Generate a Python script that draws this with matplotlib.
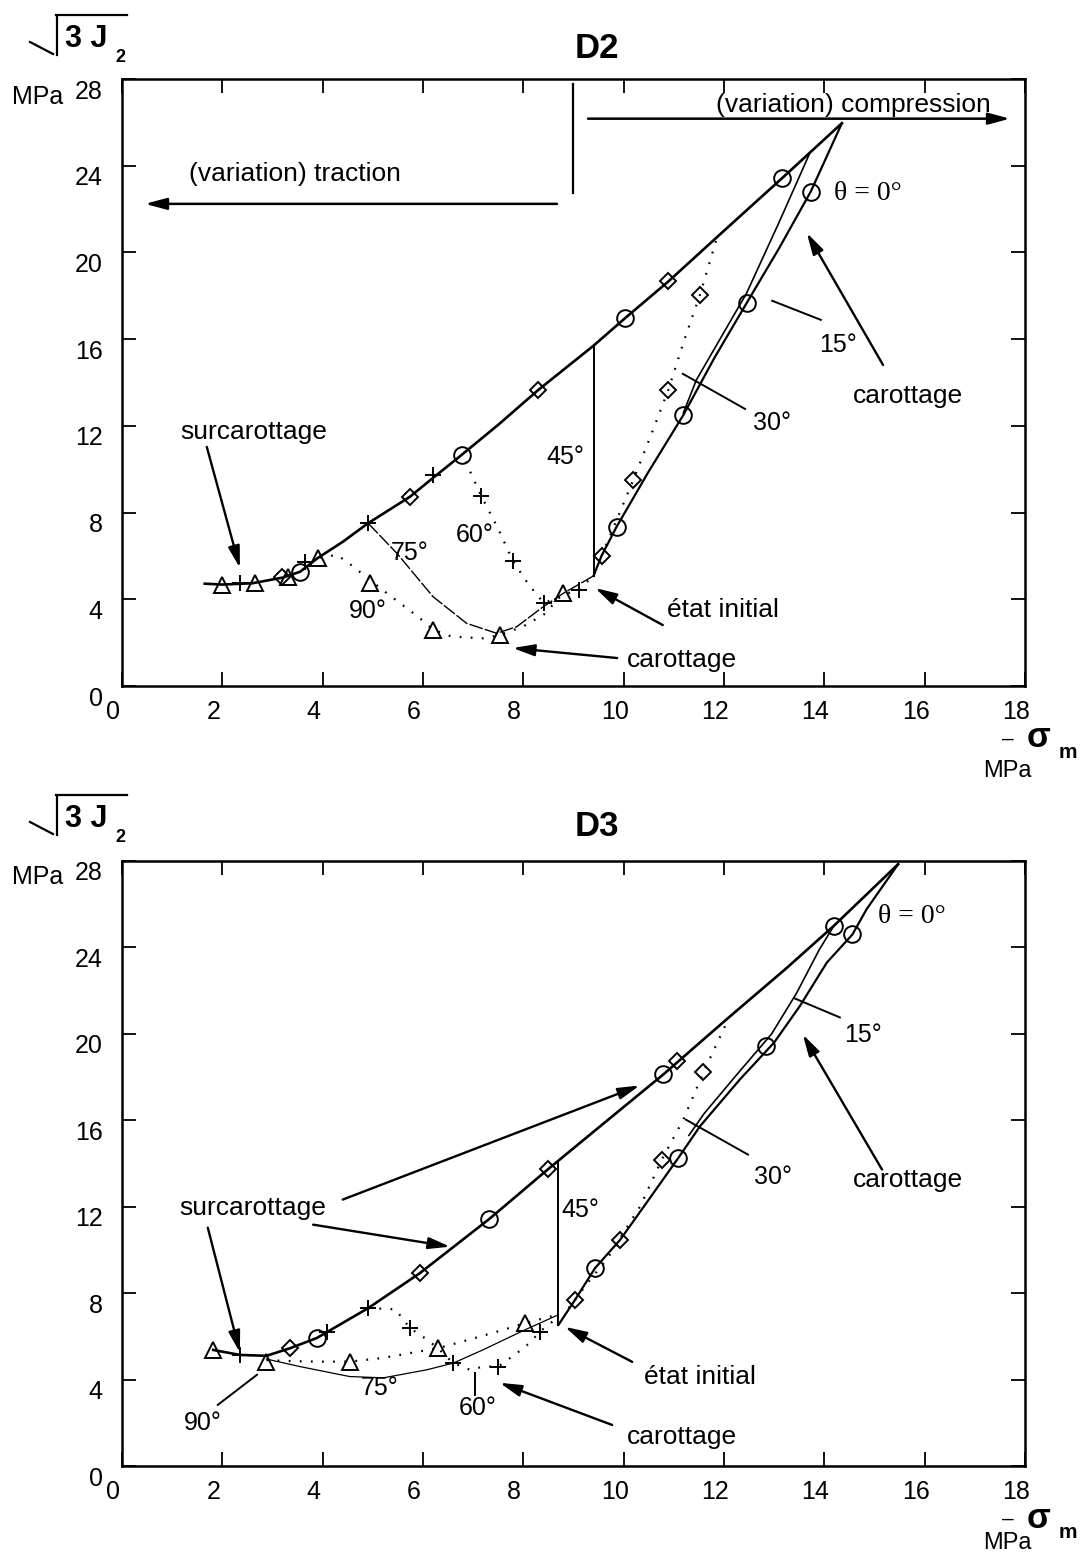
import matplotlib
matplotlib.use("Agg")
import matplotlib.pyplot as plt
from matplotlib.lines import Line2D
from matplotlib.transforms import ScaledTranslation

plt.rcParams['font.family'] = ['Liberation Sans', 'DejaVu Sans']

W, H = 1081, 1558
xticks = list(range(0, 19, 2))
yticks = list(range(0, 29, 4))

# ---- D2 (top panel) ----
d2_up_x = [1.65, 2.0, 2.6, 3.2, 3.55, 3.9, 4.4, 4.9, 5.74, 6.2, 6.77, 7.5, 8.3, 9.4, 10.03, 10.89, 12.0, 13.16, 14.35]
d2_up_y = [4.72, 4.68, 4.74, 5.0, 5.27, 5.9, 6.65, 7.5, 8.73, 9.6, 10.66, 12.05, 13.66, 15.7, 16.97, 18.66, 21.0, 23.43, 25.96]
d2_r0_x = [14.35, 13.73, 13.1, 12.45, 11.8, 11.19, 10.5, 9.86, 9.56, 9.4]
d2_r0_y = [25.96, 22.81, 20.2, 17.66, 15.1, 12.5, 9.9, 7.35, 6.01, 5.08]
d2_r15_x = [13.16, 13.71, 13.1, 12.45, 11.45, 11.19]
d2_r15_y = [23.43, 24.58, 21.4, 18.12, 14.12, 12.6]
d2_d30_x = [9.56, 9.85, 10.19, 10.55, 10.89, 11.2, 11.52, 11.85]
d2_d30_y = [6.01, 7.6, 9.5, 11.6, 13.66, 15.9, 18.04, 20.6]
d2_d60_x = [6.85, 7.16, 7.5, 7.79, 8.1, 8.41, 8.8, 9.1, 9.4]
d2_d60_y = [10.35, 8.77, 7.25, 5.77, 4.7, 3.82, 4.2, 4.45, 5.08]
d2_l75_x = [4.91, 5.48, 6.2, 6.87, 7.47, 7.87, 8.4, 8.8, 9.4]
d2_l75_y = [7.5, 6.12, 4.12, 2.89, 2.43, 2.74, 3.66, 4.28, 5.08]
d2_d90_x = [3.95, 4.28, 4.48, 5.28, 5.9, 6.2, 6.57, 7.2, 7.53, 8.0, 8.41, 8.8]
d2_d90_y = [5.92, 6.05, 5.74, 4.28, 3.2, 2.6, 2.28, 2.2, 2.35, 2.75, 3.3, 4.28]
d2_v45_x = [9.4, 9.4]
d2_v45_y = [5.08, 15.7]
d2_circ_x = [3.55, 6.77, 10.03, 13.16, 13.73, 12.45, 11.19, 9.86]
d2_circ_y = [5.27, 10.66, 16.97, 23.43, 22.81, 17.66, 12.5, 7.35]
d2_diam_x = [3.18, 5.74, 8.3, 10.89, 9.56, 10.19, 10.89, 11.52]
d2_diam_y = [5.04, 8.73, 13.66, 18.66, 6.01, 9.5, 13.66, 18.04]
d2_plus_x = [2.35, 3.65, 4.91, 6.2, 7.16, 7.79, 8.41, 9.1]
d2_plus_y = [4.74, 5.7, 7.51, 9.74, 8.77, 5.77, 3.82, 4.43]
d2_tri_x = [1.99, 2.65, 3.31, 3.91, 4.94, 6.2, 7.53, 8.8]
d2_tri_y = [4.66, 4.74, 5.04, 5.89, 4.74, 2.58, 2.35, 4.28]

# ---- D3 (bottom panel) ----
d3_up_x = [1.82, 2.35, 2.88, 3.35, 3.88, 4.91, 5.94, 7.32, 8.5, 9.53, 10.79, 12.05, 13.25, 14.19, 15.47]
d3_up_y = [5.37, 5.14, 5.1, 5.45, 5.92, 7.31, 8.93, 11.43, 13.75, 15.72, 18.12, 20.67, 23.05, 25.0, 27.85]
d3_r0_x = [15.47, 14.84, 14.56, 14.05, 13.51, 13.0, 12.32, 11.52, 11.09, 10.4, 9.93, 9.43, 9.03, 8.7]
d3_r0_y = [27.85, 25.76, 24.6, 23.3, 21.28, 19.6, 17.9, 15.72, 14.26, 12.0, 10.47, 9.16, 7.69, 6.53]
d3_r15_x = [14.19, 13.9, 13.45, 12.95, 12.25, 11.6, 11.3]
d3_r15_y = [25.0, 23.9, 21.9, 20.0, 18.1, 16.3, 15.3]
d3_d30_x = [8.9, 9.33, 9.66, 10.33, 10.76, 11.19, 11.59, 12.05]
d3_d30_y = [7.3, 8.62, 9.55, 12.02, 14.18, 16.03, 18.22, 20.5]
d3_d60_x = [4.91, 5.45, 5.74, 6.05, 6.3, 6.6, 6.94, 7.2, 7.5, 7.87, 8.13, 8.33, 8.7]
d3_d60_y = [7.31, 7.25, 6.38, 5.9, 5.45, 4.76, 4.45, 4.6, 4.6, 5.22, 5.7, 6.22, 6.9]
d3_l75_x = [2.88, 3.55, 4.54, 5.21, 6.07, 6.6, 7.2, 8.03, 8.7]
d3_l75_y = [4.95, 4.6, 4.14, 4.08, 4.45, 4.76, 5.38, 6.3, 7.0]
d3_d90_x = [2.88, 3.42, 3.9, 4.54, 5.2, 5.8, 6.3, 7.0, 7.6, 8.03, 8.6]
d3_d90_y = [4.9, 4.85, 4.83, 4.83, 5.0, 5.25, 5.45, 5.9, 6.3, 6.61, 6.95]
d3_v45_x = [8.7, 8.7]
d3_v45_y = [6.53, 14.03]
d3_circ_x = [3.88, 7.32, 10.79, 14.19, 14.56, 12.83, 11.09, 9.43]
d3_circ_y = [5.92, 11.43, 18.12, 25.0, 24.6, 19.43, 14.26, 9.16]
d3_diam_x = [3.35, 5.94, 8.5, 11.07, 9.03, 9.93, 10.76, 11.59]
d3_diam_y = [5.45, 8.93, 13.75, 18.73, 7.69, 10.47, 14.18, 18.22]
d3_plus_x = [2.35, 4.08, 4.91, 5.74, 6.6, 7.5, 8.33]
d3_plus_y = [5.14, 6.22, 7.31, 6.38, 4.76, 4.6, 6.22]
d3_tri_x = [1.82, 2.88, 4.54, 6.3, 8.03]
d3_tri_y = [5.37, 4.83, 4.83, 5.45, 6.61]

fig = plt.figure(figsize=(W / 100, H / 100), dpi=100)


def fx(px, py):
    return px / W, 1 - py / H


def fline(p1, p2, lw=1.6):
    a, b = fx(*p1), fx(*p2)
    fig.add_artist(Line2D([a[0], b[0]], [a[1], b[1]], transform=fig.transFigure, color='k', lw=lw))


def ftext(px, py, s, **kw):
    x, y = fx(px, py)
    fig.text(x, y, s, ha='center', va='center', **kw)


def style_axes(ax):
    ax.set_xlim(0, 18)
    ax.set_ylim(0, 28)
    ax.set_xticks(xticks)
    ax.set_yticks(yticks)
    ax.tick_params(direction='in', length=10, width=1.3, top=True, right=True,
                   labelsize=18)
    ax.tick_params(axis='x', pad=10)
    ax.tick_params(axis='y', pad=14)
    for s in ax.spines.values():
        s.set_linewidth(1.8)
    for lab in ax.get_yticklabels():
        lab.set_transform(lab.get_transform() + ScaledTranslation(0, -0.1, fig.dpi_scale_trans))
    for lab in ax.get_xticklabels():
        lab.set_transform(lab.get_transform() + ScaledTranslation(-0.09, 0, fig.dpi_scale_trans))


def markers(ax, cx, cy, dx, dy, px_, py_, tx, ty):
    mk = dict(ls='none', mfc='none', mec='k', mew=1.4, zorder=5)
    ax.plot(cx, cy, marker='o', ms=12, **mk)
    ax.plot(dx, dy, marker='D', ms=8, **mk)
    ax.plot(px_, py_, marker='+', ms=12, **mk)
    ax.plot(tx, ty, marker='^', ms=11, **mk)


def arrow(ax, start, end, lw=1.7):
    ax.annotate('', xy=end, xytext=start,
                arrowprops=dict(arrowstyle='-|>,head_length=1.3,head_width=0.35',
                                color='k', lw=lw, shrinkA=0, shrinkB=0),
                annotation_clip=False)


def labels(dy, mpa_y):
    fline((30, 42 + dy), (53, 54 + dy))
    fline((57, 55 + dy), (57, 16 + dy))
    fline((56, 15 + dy), (127, 15 + dy))
    ftext(86, 39 + dy, '3 J', fontsize=22, fontweight='bold')
    ftext(120, 58 + dy, '2', fontsize=13, fontweight='bold')
    ftext(38, 97 + dy, 'MPa', fontsize=18)
    ftext(1008, 739 + dy, '–', fontsize=15)
    ftext(1038, 738 + dy, 'σ', fontsize=25, fontweight='bold')
    ftext(1068, 752 + dy, 'm', fontsize=15, fontweight='bold')
    ftext(1007, mpa_y, 'MPa', fontsize=17)


dot = (0, (0.8, 4.2))
ann = dict(fontsize=19)
deg = dict(fontsize=18)
theta = dict(fontsize=20, family=['Liberation Serif', 'DejaVu Serif'])

# ---------------- D2 ----------------
ax1 = fig.add_axes([122 / W, 1 - 686 / H, 903 / W, 607 / H])
style_axes(ax1)
ax1.plot(d2_up_x, d2_up_y, color='k', lw=1.9)
ax1.plot(d2_r0_x, d2_r0_y, color='k', lw=1.6)
ax1.plot(d2_r15_x, d2_r15_y, color='k', lw=1.2)
ax1.plot(d2_d30_x, d2_d30_y, color='k', lw=1.6, ls=dot)
ax1.plot(d2_d60_x, d2_d60_y, color='k', lw=1.6, ls=dot)
ax1.plot(d2_l75_x, d2_l75_y, color='k', lw=1.0, ls=(0, (10, 1.5)))
ax1.plot(d2_d90_x, d2_d90_y, color='k', lw=1.6, ls=dot)
ax1.plot(d2_v45_x, d2_v45_y, color='k', lw=1.4)
markers(ax1, d2_circ_x, d2_circ_y, d2_diam_x, d2_diam_y, d2_plus_x, d2_plus_y, d2_tri_x, d2_tri_y)

ax1.plot([8.99, 8.99], [22.75, 27.78], color='k', lw=1.6)
arrow(ax1, (8.67, 22.24), (0.46, 22.24), lw=1.8)
ax1.text(3.45, 23.6, '(variation) traction', ha='center', va='center', **ann)
arrow(ax1, (9.29, 26.17), (17.7, 26.17), lw=1.8)
ax1.text(14.57, 26.8, '(variation) compression', ha='center', va='center', **ann)
ax1.text(14.2, 22.7, 'θ = 0°', ha='left', va='center', **theta)
ax1.plot([12.96, 13.93], [17.77, 16.89], color='k', lw=1.4)
ax1.text(14.27, 15.74, '15°', ha='center', va='center', **deg)
arrow(ax1, (15.17, 14.81), (13.65, 20.9))
ax1.text(15.67, 13.38, 'carottage', ha='center', va='center', **ann)
ax1.plot([11.18, 12.42], [14.4, 12.78], color='k', lw=1.4)
ax1.text(12.96, 12.14, '30°', ha='center', va='center', **deg)
ax1.text(8.83, 10.57, '45°', ha='center', va='center', **deg)
ax1.text(7.04, 6.97, '60°', ha='center', va='center', **deg)
ax1.text(5.74, 6.14, '75°', ha='center', va='center', **deg)
ax1.text(4.9, 3.46, '90°', ha='center', va='center', **deg)
ax1.text(2.63, 11.72, 'surcarottage', ha='center', va='center', **ann)
arrow(ax1, (1.69, 11.03), (2.35, 5.45))
ax1.text(11.98, 3.5, 'état initial', ha='center', va='center', **ann)
arrow(ax1, (10.78, 2.81), (9.43, 4.52))
ax1.text(11.16, 1.2, 'carottage', ha='center', va='center', **ann)
arrow(ax1, (9.87, 1.29), (7.79, 1.75))

ftext(597, 48, 'D2', fontsize=25, fontweight='bold')
labels(0, 771)

# ---------------- D3 ----------------
ax2 = fig.add_axes([122 / W, 1 - 1466 / H, 903 / W, 605 / H])
style_axes(ax2)
ax2.plot(d3_up_x, d3_up_y, color='k', lw=1.9)
ax2.plot(d3_r0_x, d3_r0_y, color='k', lw=1.6)
ax2.plot(d3_r15_x, d3_r15_y, color='k', lw=1.2)
ax2.plot(d3_d30_x, d3_d30_y, color='k', lw=1.6, ls=dot)
ax2.plot(d3_d60_x, d3_d60_y, color='k', lw=1.6, ls=dot)
ax2.plot(d3_l75_x, d3_l75_y, color='k', lw=0.9)
ax2.plot(d3_d90_x, d3_d90_y, color='k', lw=1.6, ls=dot)
ax2.plot(d3_v45_x, d3_v45_y, color='k', lw=1.4)
markers(ax2, d3_circ_x, d3_circ_y, d3_diam_x, d3_diam_y, d3_plus_x, d3_plus_y, d3_tri_x, d3_tri_y)

ax2.text(15.07, 25.44, 'θ = 0°', ha='left', va='center', **theta)
ax2.plot([13.41, 14.31], [21.64, 20.76], color='k', lw=1.4)
ax2.text(14.77, 19.97, '15°', ha='center', va='center', **deg)
arrow(ax2, (15.15, 13.72), (13.57, 19.97))
ax2.text(15.67, 13.25, 'carottage', ha='center', va='center', **ann)
ax2.plot([11.24, 12.48], [16.03, 14.41], color='k', lw=1.4)
ax2.text(12.98, 13.39, '30°', ha='center', va='center', **deg)
ax2.text(9.13, 11.86, '45°', ha='center', va='center', **deg)
ax2.text(2.61, 11.96, 'surcarottage', ha='center', va='center', **ann)
arrow(ax2, (1.71, 11.03), (2.35, 5.25))
arrow(ax2, (3.81, 11.17), (6.54, 10.15))
arrow(ax2, (4.4, 12.33), (10.32, 17.61))
ax2.plot([2.69, 1.91], [4.22, 2.83], color='k', lw=1.4)
ax2.text(1.61, 1.99, '90°', ha='center', va='center', **deg)
ax2.text(5.14, 3.61, '75°', ha='center', va='center', **deg)
ax2.plot([7.04, 7.04], [4.31, 3.29], color='k', lw=1.4)
ax2.text(7.1, 2.69, '60°', ha='center', va='center', **deg)
ax2.text(11.52, 4.12, 'état initial', ha='center', va='center', **ann)
arrow(ax2, (10.17, 4.82), (8.83, 6.44))
ax2.text(11.16, 1.34, 'carottage', ha='center', va='center', **ann)
arrow(ax2, (9.77, 1.9), (7.53, 3.85))

ftext(597, 826, 'D3', fontsize=25, fontweight='bold')
labels(780, 1543)

fig.savefig('out.png', dpi=100)
